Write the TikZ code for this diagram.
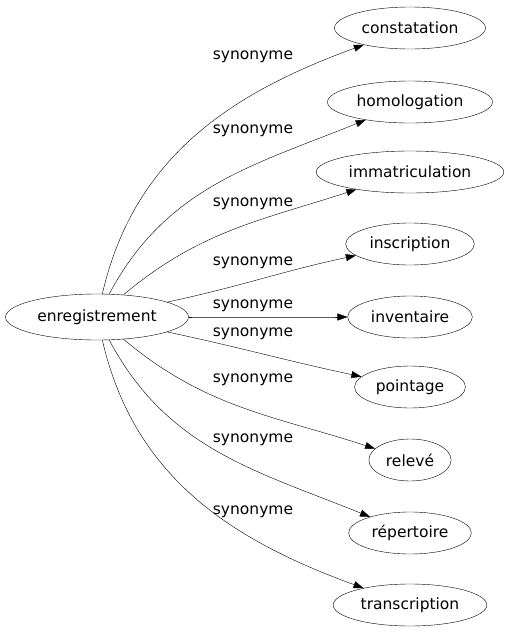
\documentclass[tikz,border=0pt]{standalone}
\usepackage{fontspec}
\setmainfont{DejaVu Sans}
\usetikzlibrary{shapes.geometric,arrows.meta}

\begin{document}
\begin{tikzpicture}[x=1pt,y=1pt,font=\fontsize{15.5}{18}\selectfont,
    word/.style={draw,ellipse,inner xsep=5pt,inner ysep=0pt,minimum height=42pt},
    syn/.style={-{Triangle[length=10pt,width=7pt]}}]
  \useasboundingbox (0,0) rectangle (512,-635);
  \node[word,minimum height=46pt] (enr) at (97,-317) {enregistrement};
  \foreach \n/\t/\y in {cons/constatation/28, homo/homologation/102,
      imma/immatriculation/172, insc/inscription/244, inve/inventaire/317,
      poin/pointage/387, rele/relevé/460, repe/répertoire/533,
      tran/transcription/605}
    \node[word] (\n) at (410,-\y) {\t};
  % edges
  \foreach \n/\o/\i/\ly in {cons/77/200/57, homo/62/202/131, imma/40/198/204,
      insc/12/192/263, inve/0/180/306, poin/-12/168/334, rele/-40/162/380,
      repe/-62/158/440, tran/-77/160/512}
  {
    \draw[syn] (enr) to[out=\o,in=\i] (\n);
    \node (l\n) at (253,-\ly) {synonyme};
  }
\end{tikzpicture}
\end{document}
